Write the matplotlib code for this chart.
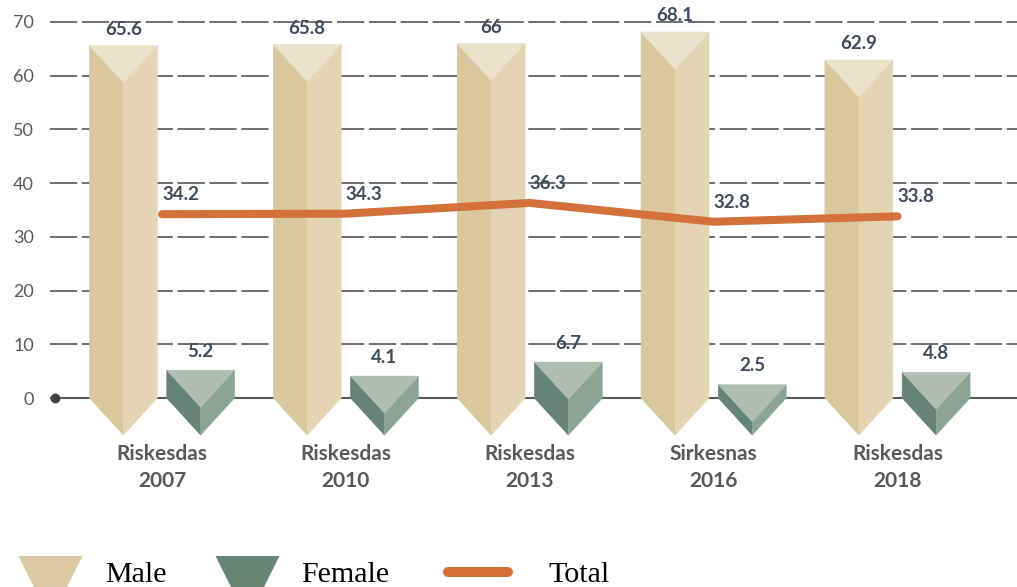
import matplotlib
matplotlib.use("Agg")
import matplotlib.pyplot as plt
from matplotlib.patches import Polygon
from matplotlib.lines import Line2D
from matplotlib.path import Path

# ---------------- data ----------------
categories = ["Riskesdas\n2007", "Riskesdas\n2010", "Riskesdas\n2013",
              "Sirkesnas\n2016", "Riskesdas\n2018"]
male = [65.6, 65.8, 66, 68.1, 62.9]
female = [5.2, 4.1, 6.7, 2.5, 4.8]
total = [34.2, 34.3, 36.3, 32.8, 33.8]
yticks = [0, 10, 20, 30, 40, 50, 60, 70]
series_names = ["Male", "Female", "Total"]

# ---------------- style ----------------
MALE_L, MALE_R, MALE_T = "#D9C7A0", "#E3D5B4", "#EBE2CC"
FEM_L, FEM_R, FEM_T = "#658376", "#8CA398", "#AFBDB5"
TOTAL_C = "#D4713A"
LABEL_C = "#404B5C"
AXIS_C = "#595959"

W, H = 1017, 587
fig = plt.figure(figsize=(W / 100, H / 100), dpi=100)
ax = fig.add_axes([50 / W, 1 - 451.8 / H, 1 - 50 / W, (451.8 - 11) / H])
ax.set_xlim(-0.609, 4.65)
ax.set_ylim(-10, 72)
for s in ax.spines.values():
    s.set_visible(False)

# gridlines
for v in yticks[1:]:
    ax.axhline(v, color="#6f6f6f", lw=1.4, dashes=(14, 2.4), zorder=0.5)
ax.axhline(0, color=AXIS_C, lw=1.5, zorder=0.5)
ax.plot([ax.get_xlim()[0] + 0.027], [0], "o", ms=6, color="#404040",
        clip_on=False, zorder=0.6)

ax.set_yticks(yticks)
ax.set_yticklabels([str(v) for v in yticks], fontfamily="Lato",
                   fontsize=13, color=AXIS_C)
ax.tick_params(axis="y", length=0, pad=11.5)
ax.set_xticks([])

half_w = 0.185
depth = 6.9
offset = 0.21


def prism(cx, top, cl, cr, ct):
    left = [(cx - half_w, top), (cx, top - depth), (cx, -depth), (cx - half_w, 0)]
    right = [(cx + half_w, top), (cx, top - depth), (cx, -depth), (cx + half_w, 0)]
    tri = [(cx - half_w, top), (cx + half_w, top), (cx, top - depth)]
    for pts, c in ((left, cl), (right, cr), (tri, ct)):
        ax.add_patch(Polygon(pts, closed=True, facecolor=c, edgecolor=c,
                             lw=0.3, zorder=2, clip_on=False))


lab_kw = dict(textcoords="offset points", va="center", fontfamily="Lato",
              fontweight="bold", fontsize=13.5, color=LABEL_C, zorder=6,
              annotation_clip=False)

for i, (m, f) in enumerate(zip(male, female)):
    prism(i - offset, m, MALE_L, MALE_R, MALE_T)
    prism(i + offset, f, FEM_L, FEM_R, FEM_T)
    ax.annotate(f"{m:g}", (i - offset, m), xytext=(0, 11.5), ha="center", **lab_kw)
    ax.annotate(f"{f:g}", (i + offset, f), xytext=(0, 13.5), ha="center", **lab_kw)

xs = list(range(len(categories)))
ax.plot(xs, total, color=TOTAL_C, lw=5.8, solid_capstyle="round", zorder=5)
for i, t in enumerate(total):
    ax.annotate(f"{t:g}", (i, t), xytext=(0, 14), ha="left", **lab_kw)

for i, c in enumerate(categories):
    ax.text(i, -8.6, c, ha="center", va="top", fontfamily="Lato",
            fontweight="bold", fontsize=15, color=AXIS_C, linespacing=1.45)

# ---------------- legend ----------------
tri_path = Path([(-32, 16.5), (32, 16.5), (0, -47.5), (-32, 16.5)],
                [Path.MOVETO, Path.LINETO, Path.LINETO, Path.CLOSEPOLY])
ms = 95 / (100 / 72)
male_h = Line2D([], [], marker=tri_path, markersize=ms, color="#DBC9A3",
                markeredgewidth=0, linestyle="None")
fem_h = Line2D([], [], marker=tri_path, markersize=ms, color="#668577",
               markeredgewidth=0, linestyle="None")
tot_h = Line2D([], [], color=TOTAL_C, lw=7.2, solid_capstyle="round")

fs = 21.6
em = fs * 100 / 72
prop = {"family": "Liberation Serif", "size": fs}
leg1 = ax.legend(handles=[male_h, fem_h], labels=series_names[:2], ncol=2,
                 frameon=False, prop=prop, handlelength=64 / em,
                 handletextpad=23 / em, columnspacing=48 / em, borderpad=0,
                 borderaxespad=0, loc="center left",
                 bbox_to_anchor=(18 / W, 12 / H), bbox_transform=fig.transFigure)
ax.add_artist(leg1)
leg2 = ax.legend(handles=[tot_h], labels=series_names[2:], frameon=False,
                 prop=prop, handlelength=60 / em, handletextpad=40 / em,
                 borderpad=0, borderaxespad=0, loc="center left",
                 bbox_to_anchor=(448 / W, 12 / H), bbox_transform=fig.transFigure)

fig.savefig("out.png", dpi=100)
